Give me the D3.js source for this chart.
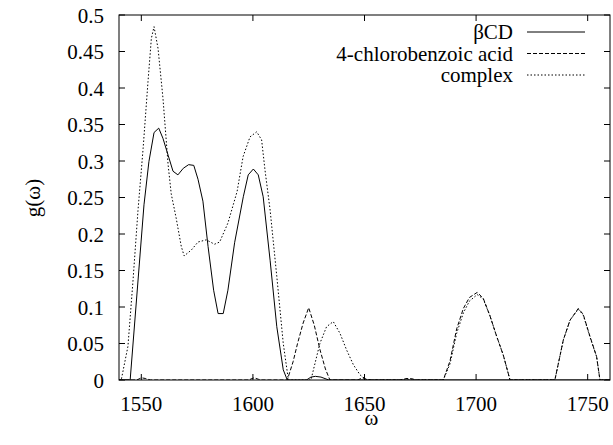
<!DOCTYPE html>
<html>
<head>
<meta charset="utf-8">
<script src="https://cdn.jsdelivr.net/npm/d3@7"></script>
</head>
<body style="margin:0">
<svg id="chart" width="613" height="445"></svg>
<script>
// series values: [omega, g]
let betaCD = [[1540,0],[1545,0],[1551.2,0.24],[1553.4,0.299],[1555.7,0.339],[1557.8,0.345],[1559.7,0.331],
    [1562,0.308],[1564.2,0.286],[1566.4,0.281],[1568.8,0.29],[1571.2,0.295],[1573.5,0.294],[1575.4,0.275],
    [1577.6,0.245],[1579.9,0.183],[1582.4,0.123],[1584.4,0.091],[1586.7,0.091],[1588.8,0.123],[1591.8,0.188],
    [1595.7,0.251],[1597.9,0.281],[1600.2,0.289],[1602.4,0.281],[1604.6,0.251],[1607.7,0.164],[1610.7,0.073],
    [1613.6,0.014],[1615.4,0],[1624,0],[1626,0.004],[1628,0.005],[1630.5,0.004],[1634,0],[1760,0]];

let acid = [[1540,0],[1548,0],[1550,0.003],[1552,0.002],[1554,0],[1598,0],[1600.5,0.003],[1602.5,0.001],
    [1604,0],[1615.4,0],[1618,0.025],[1620,0.05],[1622.5,0.078],[1625,0.099],[1627.5,0.075],[1630,0.042],
    [1632.5,0.015],[1634.5,0],[1647,0],[1649,0.003],[1651,0.001],[1653,0],[1666,0],[1668.5,0.002],
    [1671,0.002],[1673,0],[1685.3,0],[1688.3,0.026],[1691.3,0.07],[1694.3,0.098],[1697,0.113],[1700.5,0.12],
    [1703.2,0.112],[1706.2,0.088],[1709.2,0.06],[1712.2,0.034],[1715.2,0],[1735.3,0],[1739.1,0.055],
    [1742.1,0.082],[1745.8,0.098],[1748,0.09],[1751,0.06],[1754,0.032],[1755.5,0],[1760,0]];

let complex = [[1540,0],[1541,0],[1544,0.046],[1546.3,0.137],[1548.5,0.232],[1550.8,0.317],[1553,0.409],
    [1554.5,0.468],[1555.7,0.484],[1557.5,0.454],[1559.7,0.386],[1562,0.295],[1563.4,0.255],[1565.6,0.222],
    [1567.9,0.183],[1569.2,0.17],[1572.4,0.178],[1575.4,0.189],[1579.1,0.192],[1582.8,0.186],[1585.1,0.189],
    [1588.8,0.215],[1592.9,0.258],[1595.6,0.306],[1598.7,0.333],[1601.7,0.34],[1603.9,0.329],[1605.4,0.288],
    [1607.7,0.233],[1610.7,0.142],[1613.6,0.05],[1615.9,0],[1626,0],[1630,0.05],[1633,0.073],[1636,0.08],
    [1639,0.064],[1642,0.041],[1645,0.021],[1648,0.007],[1651,0],[1685.3,0],[1688.3,0.022],[1691.3,0.064],
    [1694.3,0.092],[1697,0.108],[1700.5,0.117],[1703.2,0.111],[1706.2,0.088],[1709.2,0.06],[1712.2,0.034],
    [1715.2,0],[1735.3,0],[1739.1,0.055],[1742.1,0.082],[1745.8,0.097],[1748,0.089],[1751,0.059],
    [1754,0.032],[1755.5,0],[1760,0]];

let seriesNames = ["\u03b2CD", "4-chlorobenzoic acid", "complex"];
let xTicks = [1550, 1600, 1650, 1700, 1750];
let yTicks = [0, 0.05, 0.1, 0.15, 0.2, 0.25, 0.3, 0.35, 0.4, 0.45, 0.5];

let svg = d3.select("#chart");
let plotLeft = 119, plotRight = 610, plotTop = 15, plotBottom = 380;

// text helper: serif font written into the element's own style
function label(parent, str) {
    return parent.append("text")
        .attr("style", "font-family: 'Times New Roman', 'Liberation Serif', Tinos, serif; font-size: 21px; fill: #000;")
        .text(String(str));
}

// plain black 1px stroke
function stroked(sel) {
    return sel.attr("fill", "none").attr("stroke", "#000").attr("stroke-width", 1);
}

let x = d3.scaleLinear().domain([1540, 1760]).range([plotLeft, plotRight]);
let y = d3.scaleLinear().domain([0, 0.5]).range([plotBottom, plotTop]);

// ticks on all four sides, pointing inward (gnuplot style)
let tickLen = 6;
let axisGroup = svg.append("g");
xTicks.forEach(t => {
    stroked(axisGroup.append("line"))
        .attr("x1", x(t)).attr("x2", x(t)).attr("y1", plotBottom).attr("y2", plotBottom - tickLen);
    stroked(axisGroup.append("line"))
        .attr("x1", x(t)).attr("x2", x(t)).attr("y1", plotTop).attr("y2", plotTop + tickLen);
    label(axisGroup, t)
        .attr("x", x(t)).attr("y", plotBottom + 31)
        .attr("text-anchor", "middle");
});
yTicks.forEach(t => {
    stroked(axisGroup.append("line"))
        .attr("x1", plotLeft).attr("x2", plotLeft + tickLen).attr("y1", y(t)).attr("y2", y(t));
    stroked(axisGroup.append("line"))
        .attr("x1", plotRight).attr("x2", plotRight - tickLen).attr("y1", y(t)).attr("y2", y(t));
    label(axisGroup, t)
        .attr("x", 104).attr("y", y(t) + 7.5)
        .attr("text-anchor", "end");
});

// axis titles
label(svg, "g(\u03c9)")
    .attr("transform", "translate(40,198) rotate(-90)")
    .attr("text-anchor", "middle");
label(svg, "\u03c9")
    .attr("x", (plotLeft + plotRight) / 2 + 7).attr("y", 425)
    .attr("text-anchor", "middle");

// curves
svg.append("clipPath").attr("id", "clip")
    .append("rect").attr("x", plotLeft).attr("y", plotTop)
    .attr("width", plotRight - plotLeft).attr("height", plotBottom - plotTop);

let line = d3.line().x(d => x(d[0])).y(d => y(d[1]));
let dashes = [null, "4,2", "1.5,2"];
let allSeries = [betaCD, acid, complex];

let plot = svg.append("g").attr("clip-path", "url(#clip)");
allSeries.forEach((s, i) => {
    stroked(plot.append("path"))
        .attr("d", line(s))
        .attr("stroke-dasharray", dashes[i]);
});

// legend
seriesNames.forEach((name, i) => {
    let ly = 32 + i * 21.5;
    label(svg, name)
        .attr("x", 513).attr("y", ly + 7)
        .attr("text-anchor", "end");
    stroked(svg.append("line"))
        .attr("x1", 527).attr("x2", 585).attr("y1", ly).attr("y2", ly)
        .attr("stroke-dasharray", dashes[i]);
});

stroked(svg.append("rect"))
    .attr("x", plotLeft).attr("y", plotTop)
    .attr("width", plotRight - plotLeft).attr("height", plotBottom - plotTop);
</script>
</body>
</html>
